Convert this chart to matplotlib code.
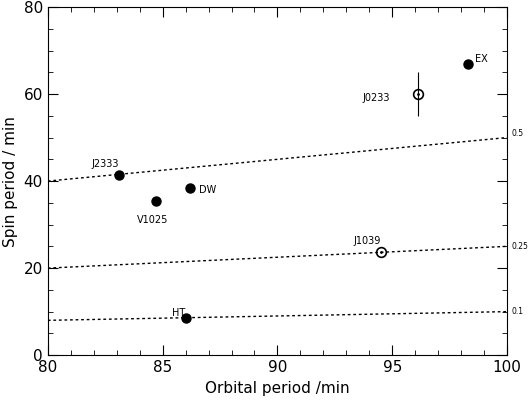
import matplotlib
matplotlib.use("Agg")
import matplotlib.pyplot as plt
import numpy as np

filled_names = ["J2333", "V1025", "DW", "HT", "EX"]
filled_porb = [83.1, 84.7, 86.2, 86.0, 98.3]
filled_pspin = [41.5, 35.5, 38.5, 8.5, 67.0]
open_names = ["J1039", "J0233"]
open_porb = [94.5, 96.1]
open_pspin = [23.8, 60.0]
open_err = [0.0, 5.0]
ratios = [0.5, 0.25, 0.1]
ratio_labels = ["0.5", "0.25", "0.1"]

fig = plt.figure(figsize=(5.31, 4.12), dpi=100)
ax = fig.add_axes([0.09, 0.138, 0.865, 0.845])
ax.set_xlim(80, 100)
ax.set_ylim(0, 80)

xs = np.array([80, 100])
for r, lab in zip(ratios, ratio_labels):
    ax.plot(xs, r * xs, ls=(0, (2, 2)), color="k", lw=1)
    ax.text(100.2, r * 100, lab, fontsize=5.5, va="bottom" if r > 0.3 else "center", ha="left")

ax.plot(filled_porb, filled_pspin, "o", color="k", ms=6.5)
ax.errorbar(open_porb, open_pspin, yerr=open_err, fmt="o", mfc="none", mec="k",
            ecolor="k", ms=7, elinewidth=0.8, mew=1.2)
ax.plot(open_porb, open_pspin, ".", color="k", ms=2)

offs = {"J2333": (-1.2, 2.5), "V1025": (-0.8, -4.5), "DW": (0.4, -0.5),
        "HT": (-0.6, 1.2), "EX": (0.3, 1.0), "J1039": (-1.2, 2.5), "J0233": (-2.4, -1.0)}
names = filled_names + open_names
px = filled_porb + open_porb
py = filled_pspin + open_pspin
for n, x, y in zip(names, px, py):
    dx, dy = offs[n]
    ax.text(x + dx, y + dy, n, fontsize=7, va="center")

ax.set_xticks([80, 85, 90, 95, 100])
ax.set_yticks([0, 20, 40, 60, 80])
ax.set_xticks(np.arange(80, 101, 1), minor=True)
ax.set_yticks(np.arange(0, 81, 5), minor=True)
ax.tick_params(which="both", direction="in", top=True, right=True, labelsize=11)
ax.tick_params(which="major", length=7)
ax.tick_params(which="minor", length=3.5)
ax.set_xlabel("Orbital period /min", fontsize=11)
ax.set_ylabel("Spin period / min", fontsize=11)
fig.savefig("out.png", dpi=100)
